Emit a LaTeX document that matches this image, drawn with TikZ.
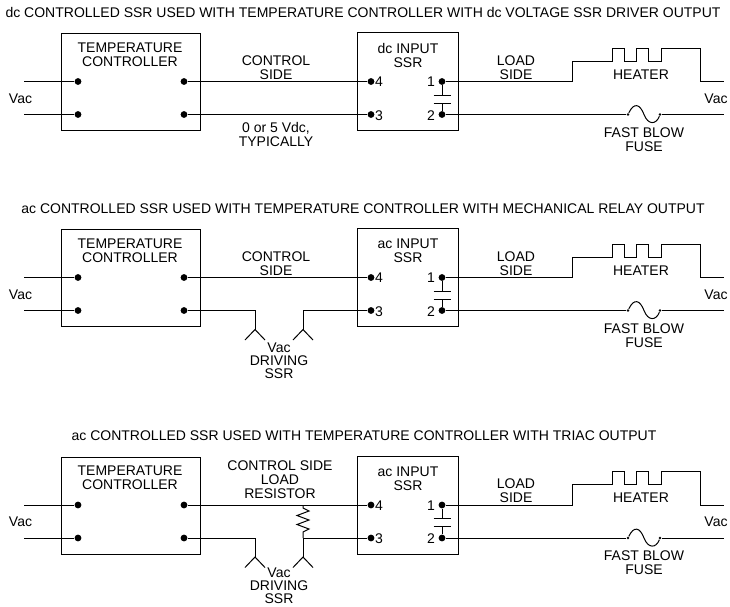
\documentclass[tikz,border=0pt]{standalone}
\usepackage{fontspec}
\setmainfont{Liberation Sans}
\begin{document}
\begin{tikzpicture}[x=1pt,y=-1pt,line width=1pt,
    elt/.style={circle,fill,inner sep=0pt,minimum size=6.8pt},
    blk/.style={draw,anchor=north west,inner sep=0pt},
    lbl/.style={align=center,inner sep=0pt,font=\fontsize{14}{14}\selectfont},
    tiny/.style={circle,fill,inner sep=0pt,minimum size=2.6pt}]
  \useasboundingbox (0,0) rectangle (730,606);

  \node[lbl] (title1) at (363,12.5) {dc CONTROLLED SSR USED WITH TEMPERATURE CONTROLLER WITH dc VOLTAGE SSR DRIVER OUTPUT};
  \node[lbl] (title2) at (363,208.5) {ac CONTROLLED SSR USED WITH TEMPERATURE CONTROLLER WITH MECHANICAL RELAY OUTPUT};
  \node[lbl] (title3) at (364,436) {ac CONTROLLED SSR USED WITH TEMPERATURE CONTROLLER WITH TRIAC OUTPUT};

  % the part that all three circuits share
  \foreach \p/\dy/\kind in {1/0/dc,2/196/ac,3/423.5/ac} {
    \begin{scope}[yshift=-\dy pt]
      \node[blk,minimum width=139pt,minimum height=97pt] (tc\p) at (61,33) {};
      \node[blk,minimum width=101pt,minimum height=98pt] (ssr\p) at (357,32) {};
      \node[lbl] (tctext\p) at (130,54.5) {TEMPERATURE\\CONTROLLER};
      \node[lbl] (ssrtext\p) at (408,55) {\kind{} INPUT\\SSR};
      \node[lbl] (loadtext\p) at (516,67.5) {LOAD\\SIDE};
      \node[lbl] (heatertext\p) at (641,74.5) {HEATER};
      \node[lbl] (fusetext\p) at (644,139.5) {FAST BLOW\\FUSE};
      \node[lbl] (vacl\p) at (20.5,98.5) {Vac};
      \node[lbl] (vacr\p) at (716,98.5) {Vac};

      \node[elt] (a\p) at (78,81.5) {};
      \node[elt] (b\p) at (78,114.5) {};
      \node[elt] (c\p) at (184,81.5) {};
      \node[elt] (d\p) at (184,114.5) {};
      \node[elt] (in4\p) at (371,81.5) {};
      \node[elt] (in3\p) at (371,114.5) {};
      \node[elt] (out1\p) at (442,81.5) {};
      \node[elt] (out2\p) at (442,114.5) {};
      \node[lbl] (n4\p) at (379,82) {4};
      \node[lbl] (n3\p) at (379,115.5) {3};
      \node[lbl] (n1\p) at (431,82) {1};
      \node[lbl] (n2\p) at (431,115.5) {2};

      \coordinate (la\p) at (24,81.5);
      \coordinate (lb\p) at (24,114.5);
      \coordinate (ra\p) at (724,81.5);
      \coordinate (rb\p) at (724,114.5);
      \coordinate (cap1\p) at (442,95);
      \coordinate (cap2\p) at (442,103);
      \node[tiny] (fl\p) at (628,114.5) {};
      \node[tiny] (fr\p) at (660,114.5) {};

      \draw (la\p) -- (a\p);
      \draw (lb\p) -- (b\p);
      \draw (out1\p) -- (cap1\p) (cap2\p) -- (out2\p);
      \draw ([xshift=-8.5pt]cap1\p) -- ([xshift=8.5pt]cap1\p);
      \draw ([xshift=-8.5pt]cap2\p) -- ([xshift=8.5pt]cap2\p);
      \draw (out1\p) -- (572,81.5) -- (572,61) -- (612,61) -- (612,48) -- (624,48) -- (624,61)
        -- (636,61) -- (636,48) -- (648,48) -- (648,61) -- (661,61) -- (661,48) -- (700,48)
        -- (700,81.5) -- (ra\p);
      \draw (out2\p) -- (fl\p);
      \draw (fl\p) .. controls (634,102) and (640,104) .. (644,114.5)
        .. controls (648,125) and (656,125) .. (fr\p);
      \draw (fr\p) -- (rb\p);
    \end{scope}
  }

  % first circuit
  \node[lbl] (ctrl1) at (276,67.5) {CONTROL\\SIDE};
  \node[lbl] (volt1) at (276,134.5) {0 or 5 Vdc,\\TYPICALLY};
  \draw (c1) -- (in41);
  \draw (d1) -- (in31);

  % second circuit
  \node[lbl] (ctrl2) at (276,263.5) {CONTROL\\SIDE};
  \node[lbl] (drive2) at (279,361) {Vac\\[-1pt]DRIVING\\[-1pt]SSR};
  \coordinate (va2) at (255,329.5);
  \coordinate (vb2) at (303,329.5);
  \draw (c2) -- (in42);
  \draw (d2) -| (va2);
  \draw (in32) -| (vb2);
  \draw (245,340) -- (va2) -- (265,340);
  \draw (293,340) -- (vb2) -- (313,340);

  % third circuit
  \node[lbl] (ctrl3) at (280,479.5) {CONTROL SIDE\\LOAD\\RESISTOR};
  \node[lbl] (drive3) at (279,586) {Vac\\[-1pt]DRIVING\\[-1pt]SSR};
  \coordinate (va3) at (255,557);
  \coordinate (vb3) at (303,557);
  \coordinate (rt3) at (303,505);
  \coordinate (rb3) at (303,538);
  \draw (c3) -- (in43);
  \draw (d3) -| (va3);
  \draw (in33) -- (rb3) -- (vb3);
  \draw (rt3) -- (303,508) -- (309,511) -- (297,515.5) -- (309,520) -- (297,524.5) -- (309,529) -- (303,532) -- (rb3);
  \draw (245,567.5) -- (va3) -- (265,567.5);
  \draw (293,567.5) -- (vb3) -- (313,567.5);
\end{tikzpicture}
\end{document}
